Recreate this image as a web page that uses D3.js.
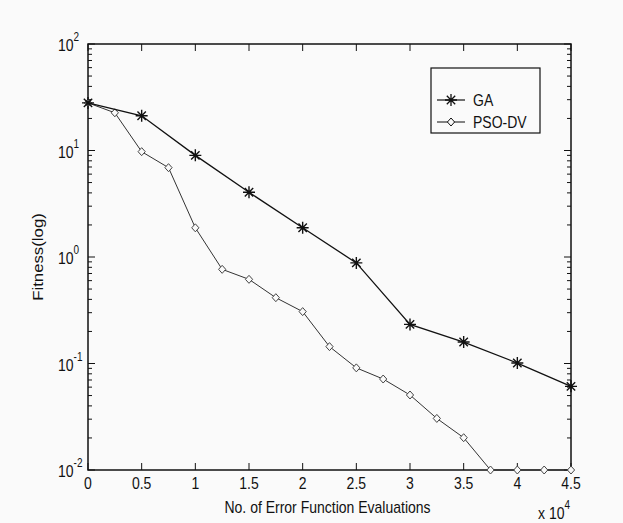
<!DOCTYPE html>
<html>
<head>
<meta charset="utf-8">
<script src="https://cdn.jsdelivr.net/npm/d3@7"></script>
<style>
  body { margin: 0; background: #fafafa; }
  text { font-family: "Liberation Sans", Arial, sans-serif; fill: #111; }
</style>
</head>
<body>
<script>
// evaluations (x) and fitness values
let gaEvals = [0, 5000, 10000, 15000, 20000, 25000, 30000, 35000, 40000, 45000]
let gaFitness = [28, 21.2, 9.0, 4.05, 1.88, 0.88, 0.233, 0.159, 0.101, 0.061]

let psoEvals = [0, 2500, 5000, 7500, 10000, 12500, 15000, 17500, 20000, 22500,
                25000, 27500, 30000, 32500, 35000, 37500, 40000, 42500, 45000]
let psoFitness = [28, 22.6, 9.75, 6.9, 1.88, 0.766, 0.617, 0.415, 0.307, 0.144,
                  0.091, 0.0715, 0.0506, 0.0305, 0.0201, 0.01, 0.01, 0.01, 0.01]

let xTicks = [0, 5000, 10000, 15000, 20000, 25000, 30000, 35000, 40000, 45000]
let yDecades = [0.01, 0.1, 1, 10, 100]
let seriesNames = ["GA", "PSO-DV"]

let W = 623, H = 523
let margin = {left: 88, right: 52, top: 44, bottom: 53}
let x0 = margin.left, x1 = W - margin.right, y0 = margin.top, y1 = H - margin.bottom

let x = d3.scaleLinear().domain([0, 45000]).range([x0, x1])
let y = d3.scaleLog().domain([0.01, 100]).range([y1, y0])

let svg = d3.select("body").append("svg").attr("width", W).attr("height", H)

// the old screenshot has tall, narrow lettering
let stretch = "scale(1,1.2)"
let pos = (px, py) => "translate(" + px + "," + py + ") " + stretch

// minor log ticks
let minor = []
yDecades.slice(0, -1).forEach(d => { for (let k = 2; k <= 9; k++) minor.push(d * k) })

let tickG = svg.append("g").attr("stroke", "#111").attr("stroke-width", 1)
minor.forEach(v => {
  tickG.append("line").attr("x1", x0).attr("x2", x0 + 4).attr("y1", y(v)).attr("y2", y(v))
  tickG.append("line").attr("x1", x1).attr("x2", x1 - 4).attr("y1", y(v)).attr("y2", y(v))
})
yDecades.forEach(v => {
  tickG.append("line").attr("x1", x0).attr("x2", x0 + 7).attr("y1", y(v)).attr("y2", y(v))
  tickG.append("line").attr("x1", x1).attr("x2", x1 - 7).attr("y1", y(v)).attr("y2", y(v))
})
xTicks.forEach(v => {
  tickG.append("line").attr("x1", x(v)).attr("x2", x(v)).attr("y1", y1).attr("y2", y1 - 7)
  tickG.append("line").attr("x1", x(v)).attr("x2", x(v)).attr("y1", y0).attr("y2", y0 + 7)
})

// frame
svg.append("rect").attr("x", x0).attr("y", y0).attr("width", x1 - x0).attr("height", y1 - y0)
   .attr("fill", "none").attr("stroke", "#111").attr("stroke-width", 1.5)

// x tick labels
svg.append("g").selectAll("text").data(xTicks).enter().append("text")
   .attr("transform", d => pos(x(d), y1 + 19)).attr("text-anchor", "middle")
   .attr("font-size", 14).text(d => d3.format("~g")(d / 1e4))

// y decade labels
let yl = svg.append("g").selectAll("text").data(yDecades).enter().append("text")
   .attr("transform", d => pos(58, y(d) + 7)).attr("font-size", 14)
yl.append("tspan").text("10")
yl.append("tspan").attr("dy", -8).attr("font-size", 10).text(d => Math.round(Math.log10(d)))

// axis titles
svg.append("text").attr("transform", "translate(43," + ((y0 + y1) / 2) + ") rotate(-90) scale(1.2,1)")
   .attr("text-anchor", "middle").attr("font-size", 14).text("Fitness(log)")
svg.append("text").attr("transform", pos((x0 + x1) / 2 - 2, 513)).attr("text-anchor", "middle")
   .attr("font-size", 14).text("No. of Error Function Evaluations")
let mult = svg.append("text").attr("transform", pos(538, 519)).attr("font-size", 14)
mult.append("tspan").text("x 10")
mult.append("tspan").attr("dy", -8).attr("font-size", 10).text("4")

// marker shapes
let star = "M-6,0L6,0M0,-6L0,6M-4.2,-4.2L4.2,4.2M-4.2,4.2L4.2,-4.2"
let diamond = "M0,-4L3.6,0L0,4L-3.6,0Z"

let ga = gaEvals.map((e, i) => ({x: e, y: gaFitness[i]}))
let pso = psoEvals.map((e, i) => ({x: e, y: psoFitness[i]}))
let line = d3.line().x(d => x(d.x)).y(d => y(d.y))

svg.append("path").attr("d", line(pso)).attr("fill", "none").attr("stroke", "#333").attr("stroke-width", 1)
svg.append("g").selectAll("path").data(pso).enter().append("path")
   .attr("transform", d => "translate(" + x(d.x) + "," + y(d.y) + ")")
   .attr("d", diamond).attr("fill", "#fafafa").attr("stroke", "#444").attr("stroke-width", 1)

svg.append("path").attr("d", line(ga)).attr("fill", "none").attr("stroke", "#111").attr("stroke-width", 1.3)
svg.append("g").selectAll("path").data(ga).enter().append("path")
   .attr("transform", d => "translate(" + x(d.x) + "," + y(d.y) + ")")
   .attr("d", star).attr("stroke", "#111").attr("stroke-width", 1.4)

// legend
let lg = svg.append("g")
lg.append("rect").attr("x", 431).attr("y", 68).attr("width", 109).attr("height", 65)
  .attr("fill", "#fafafa").attr("stroke", "#111").attr("stroke-width", 1.2)
seriesNames.forEach((name, i) => {
  let ry = 100 + i * 22
  lg.append("line").attr("x1", 437).attr("x2", 465).attr("y1", ry).attr("y2", ry)
    .attr("stroke", i ? "#333" : "#111").attr("stroke-width", 1.2)
  lg.append("path").attr("transform", "translate(451," + ry + ")")
    .attr("d", i ? diamond : star).attr("fill", i ? "#fafafa" : "none")
    .attr("stroke", "#111").attr("stroke-width", i ? 1 : 1.3)
  lg.append("text").attr("transform", pos(473, ry + 6)).attr("font-size", 14).text(name)
})
</script>
</body>
</html>
